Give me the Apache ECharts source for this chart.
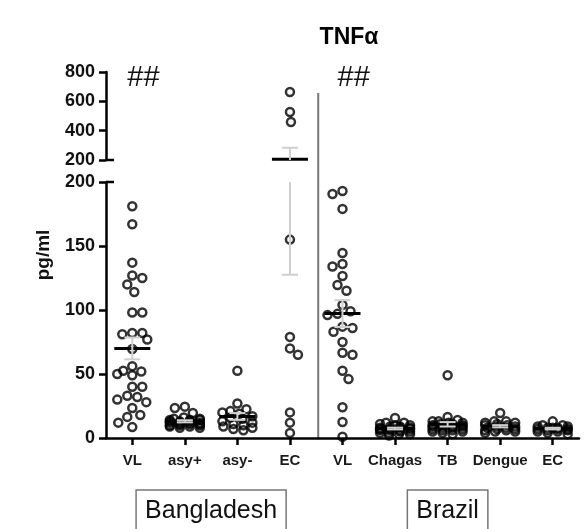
<!DOCTYPE html>
<html>
<head>
<meta charset="utf-8">
<script src="https://cdn.jsdelivr.net/npm/echarts@6/dist/echarts.min.js"></script>
<style>
  html, body { margin: 0; padding: 0; background: #fff; }
  #chart { width: 587px; height: 529px; }
</style>
</head>
<body>
<div id="chart"></div>
<script>
// Groups along the x axis
const categories = ['VL', 'asy+', 'asy-', 'EC', 'VL', 'Chagas', 'TB', 'Dengue', 'EC'];

// TNF-alpha concentrations (pg/ml), one array per group
const vlBangladesh = [181, 167, 137, 127, 125, 120, 114, 98, 98, 82, 82, 81, 77, 69.5, 56, 52.5, 52, 50, 49,
                      40, 40, 33, 32, 30, 28, 23.5, 18, 16.5, 12, 8.5];
const asyPositive  = [24.5, 23.5, 19.5, 16, 15, 15, 14, 14, 14, 13, 13, 13, 12, 12, 12, 12, 11, 11, 11,
                      10, 10, 10, 9, 9, 8, 8];
const asyNegative  = [52.5, 27, 22.5, 21, 20, 19, 17, 16, 15, 13, 12, 11, 10, 9, 8, 7, 6];
const ecBangladesh = [664, 527, 459, 155, 79, 70, 65, 20, 12, 4];
const vlBrazil     = [193, 190.6, 179, 144.5, 136, 134, 126.5, 119.5, 115, 104, 99, 97, 96, 87, 86, 83,
                      75, 66.6, 65, 52.5, 46, 24, 12.5, 1];
const chagas       = [15.6, 12, 12, 11, 10, 10, 9, 9, 8, 8, 8, 7, 7, 7, 6, 6, 6, 5, 5, 4, 4, 3, 3, 2];
const tb           = [49, 16.5, 14, 13, 13, 12, 12, 11, 11, 10, 10, 10, 9, 9, 9, 8, 8, 7, 7, 6, 6, 5, 5, 4, 3];
const dengue       = [19.5, 13, 13, 12, 12, 11, 10, 10, 9, 9, 8, 8, 7, 7, 6, 6, 5, 5, 4];
const ecBrazil     = [13, 10, 10, 9, 9, 8, 8, 8, 7, 7, 7, 6, 6, 5, 5, 4, 3];

const groups = [vlBangladesh, asyPositive, asyNegative, ecBangladesh, vlBrazil, chagas, tb, dengue, ecBrazil];

// Broken value axis: lower and upper segments
const lowerRange = [0, 200];
const upperRange = [200, 800];
const lowerInterval = 50;
const upperInterval = 200;

// Country spans (first and last category index) and significance marks
const countries = [
  { name: 'Bangladesh', from: 0, to: 3 },
  { name: 'Brazil', from: 4, to: 8 }
];
const significance = [{ category: 0, text: '##' }, { category: 4, text: '##' }];

const FONT = '"Liberation Sans", Arial, sans-serif';

// Mean and standard error of the mean
function meanSem(values) {
  const n = values.length;
  const m = values.reduce((s, x) => s + x, 0) / n;
  const sd = Math.sqrt(values.reduce((s, x) => s + (x - m) * (x - m), 0) / (n - 1));
  return [m, sd / Math.sqrt(n)];
}

// Mean bar plus SEM whisker, clipped to one axis segment
function meanSemRenderer(lo, hi) {
  return function (params, api) {
    const c = api.value(0), m = api.value(1), s = api.value(2);
    const x = api.coord([c, lo])[0];
    const y = v => api.coord([c, v])[1];
    const children = [];
    if (m >= lo && m <= hi) {
      children.push({ type: 'line', shape: { x1: x - 18, y1: y(m), x2: x + 18, y2: y(m) },
        style: { stroke: '#000', lineWidth: 3 } });
    }
    const top = Math.min(m + s, hi), bot = Math.max(m - s, lo);
    const grey = { stroke: '#cfcfcf', lineWidth: 2 };
    if (top > bot) {
      children.push({ type: 'line', shape: { x1: x, y1: y(top), x2: x, y2: y(bot) }, style: grey });
      if (m + s <= hi) children.push({ type: 'line', shape: { x1: x - 8, y1: y(m + s), x2: x + 8, y2: y(m + s) }, style: grey });
      if (m - s >= lo) children.push({ type: 'line', shape: { x1: x - 8, y1: y(m - s), x2: x + 8, y2: y(m - s) }, style: grey });
    }
    return { type: 'group', children };
  };
}

const axisLineStyle = { color: '#000', width: 2.5 };
const yAxisCommon = {
  type: 'value',
  splitLine: { show: false },
  axisLine: { show: true, lineStyle: axisLineStyle },
  axisTick: { show: true, length: 7, lineStyle: axisLineStyle },
  axisLabel: { fontFamily: FONT, fontWeight: 'bold', fontSize: 18, color: '#111', margin: 11 }
};

const pointStyle = { color: 'rgba(255,255,255,0)', borderColor: '#000', borderWidth: 2.5 };
const SYMBOL = 8;

const chart = echarts.init(document.getElementById('chart'), null, { renderer: 'canvas' });
chart.setOption({
  animation: false,
  backgroundColor: '#fff',
  title: {
    text: 'TNF\u03b1', left: 344, top: 21, textAlign: 'center',
    textStyle: { fontFamily: FONT, fontWeight: 'bold', fontSize: 23, color: '#000' }
  },
  grid: [
    { left: 106, right: 8, top: 72, height: 88 },
    { left: 106, right: 8, top: 182, height: 256 }
  ],
  xAxis: [
    { type: 'category', gridIndex: 0, data: categories, show: false },
    {
      type: 'category', gridIndex: 1, data: categories,
      axisLine: { show: true, lineStyle: axisLineStyle },
      axisTick: { show: true, alignWithLabel: true, length: 7, lineStyle: axisLineStyle },
      axisLabel: { fontFamily: FONT, fontWeight: 'bold', fontSize: 15, color: '#1a1a1a', margin: 15, interval: 0 }
    }
  ],
  yAxis: [
    Object.assign({}, yAxisCommon, { gridIndex: 0, min: upperRange[0], max: upperRange[1], interval: upperInterval }),
    Object.assign({}, yAxisCommon, { gridIndex: 1, min: lowerRange[0], max: lowerRange[1], interval: lowerInterval })
  ]
});

// Pixel mapping from the axes themselves
const px = (ci) => chart.convertToPixel({ xAxisIndex: 1 }, ci);
const yLow = (v) => chart.convertToPixel({ yAxisIndex: 1 }, v);
const yHigh = (v) => chart.convertToPixel({ yAxisIndex: 0 }, v);
const yOf = (v) => (v > lowerRange[1] ? yHigh(v) : yLow(v));

// Swarm layout: each point takes the nearest horizontal offset that does not
// collide with points already placed; dense groups fall back to least overlap.
function swarmOffsets(values, diameter, maxHalf) {
  const placed = [];
  return values.map((v, idx) => {
    const y = yOf(v);
    const dir = idx % 2 === 0 ? 1 : -1;
    let best = 0, bestOverlap = Infinity;
    for (let k = 0; k <= maxHalf; k++) {
      const cands = k === 0 ? [0] : [dir * k, -dir * k];
      for (const dx of cands) {
        let overlap = 0;
        for (const p of placed) {
          const d = Math.hypot(p.dx - dx, p.y - y);
          if (d < diameter) overlap += diameter - d;
        }
        if (overlap < bestOverlap - 1e-6) { bestOverlap = overlap; best = dx; }
      }
      if (bestOverlap === 0) break;
    }
    placed.push({ dx: best, y });
    return best;
  });
}

const lowerPoints = [];
const upperPoints = [];
groups.forEach((vals, ci) => {
  const sorted = vals.slice().sort((a, b) => b - a);
  const offsets = swarmOffsets(sorted, 10, 15);
  sorted.forEach((v, i) => {
    const item = { value: [ci, v], symbolOffset: [offsets[i], 0] };
    (v > lowerRange[1] ? upperPoints : lowerPoints).push(item);
  });
});

const summary = groups.map((vals, ci) => [ci].concat(meanSem(vals)));

const graphics = [];
const axisX = px(0) - (px(1) - px(0)) / 2;

// Break marks: short ticks on the inner side where each axis segment ends
[yHigh(upperRange[0]), yLow(lowerRange[1])].forEach(yb => {
  graphics.push({
    type: 'line', shape: { x1: axisX, y1: yb, x2: axisX + 8, y2: yb },
    style: { stroke: '#000', lineWidth: 2.5 }
  });
});

// y axis title centred over the whole broken axis
graphics.push({
  type: 'text', x: 44, y: (yHigh(upperRange[1]) + yLow(lowerRange[0])) / 2, rotation: Math.PI / 2,
  style: { text: 'pg/ml', fontFamily: FONT, fontWeight: 'bold', fontSize: 19, fill: '#111',
    align: 'center', verticalAlign: 'middle' }
});

// Divider between the two countries
const divX = (px(3) + px(4)) / 2 + 2;
graphics.push({
  type: 'line', shape: { x1: divX, y1: 93, x2: divX, y2: yLow(0) },
  style: { stroke: '#777', lineWidth: 2 }
});

significance.forEach(s => {
  graphics.push({
    type: 'text', x: px(s.category) - 5, y: 78,
    style: { text: s.text, fontFamily: FONT, fontSize: 29, fill: '#111', align: 'left', verticalAlign: 'middle' }
  });
});

countries.forEach(c => {
  graphics.push({
    type: 'text', x: (px(c.from) + px(c.to)) / 2, y: 490,
    style: { text: c.name, fontFamily: FONT, fontSize: 25, fill: '#111', align: 'center', verticalAlign: 'top',
      padding: [9, 9, 24, 9], borderColor: '#777', borderWidth: 1.5 }
  });
});

chart.setOption({
  graphic: graphics,
  series: [
    { type: 'scatter', xAxisIndex: 0, yAxisIndex: 0, data: upperPoints, symbol: 'circle', symbolSize: SYMBOL,
      itemStyle: pointStyle, z: 2 },
    { type: 'scatter', xAxisIndex: 1, yAxisIndex: 1, data: lowerPoints, symbol: 'circle', symbolSize: SYMBOL,
      itemStyle: pointStyle, z: 2 },
    { type: 'custom', xAxisIndex: 0, yAxisIndex: 0, data: summary, encode: { x: 0, y: 1 },
      renderItem: meanSemRenderer(upperRange[0], upperRange[1]), z: 3 },
    { type: 'custom', xAxisIndex: 1, yAxisIndex: 1, data: summary, encode: { x: 0, y: 1 },
      renderItem: meanSemRenderer(lowerRange[0], lowerRange[1]), z: 3 }
  ]
});
</script>
</body>
</html>
